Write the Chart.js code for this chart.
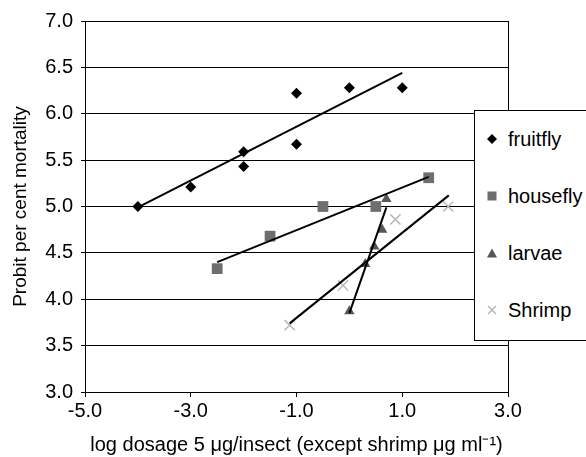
<!DOCTYPE html>
<html lang="en">
<head>
    <meta charset="UTF-8">
    <script src="https://cdn.jsdelivr.net/npm/chart.js@4.4.0/dist/chart.umd.min.js"></script>
    <title>Probit mortality</title>
    <style>
        html, body { margin: 0; padding: 0; background: #fff; overflow: hidden; }
        #wrapper { position: relative; width: 586px; height: 457px; }
        #legend {
            position: absolute; left: 474px; top: 110px; width: 130px; height: 229px;
            border: 1px solid #000; background: #fff; z-index: 2;
            font-family: "Liberation Sans", Arial, sans-serif; font-size: 20px; color: #000;
        }
        #legend .row { position: relative; height: 57px; }
        #legend svg { position: absolute; left: 11px; top: 22px; }
        #legend span { position: absolute; left: 33px; top: 0; line-height: 57px; white-space: nowrap; }
    </style>
</head>
<body>
    <div id="wrapper">
        <canvas id="chart" width="586" height="457"></canvas>
        <div id="legend"></div>
    </div>
    <script>
        // values
        var seriesNames = ['fruitfly', 'housefly', 'larvae', 'Shrimp'];

        var fruitX = [-4, -3, -2, -2, -1, -1, 0, 1];
        var fruitY = [5.0, 5.21, 5.59, 5.43, 6.22, 5.67, 6.28, 6.28];
        var houseX = [-2.5, -1.5, -0.5, 0.5, 1.5];
        var houseY = [4.33, 4.68, 5.0, 5.0, 5.31];
        var larvaeX = [0.0, 0.3, 0.47, 0.62, 0.7];
        var larvaeY = [3.87, 4.38, 4.57, 4.75, 5.08];
        var shrimpX = [-1.13, -0.12, 0.87, 1.87];
        var shrimpY = [3.72, 4.15, 4.86, 5.0];

        // trend line end points
        var fruitFitX = [-4, 1];
        var fruitFitY = [4.99, 6.44];
        var houseFitX = [-2.5, 1.5];
        var houseFitY = [4.40, 5.32];
        var larvaeFitX = [0.0, 0.7];
        var larvaeFitY = [3.85, 4.99];
        var shrimpFitX = [-1.13, 1.88];
        var shrimpFitY = [3.74, 5.12];

        var xTicks = [-5, -3, -1, 1, 3];
        var yTicks = [3.0, 3.5, 4.0, 4.5, 5.0, 5.5, 6.0, 6.5, 7.0];

        var styles = [
            { shape: 'rectRot', color: '#000000', radius: 5.5 },
            { shape: 'rect', color: '#6e6e6e', radius: 7.6 },
            { shape: 'triangle', color: '#565656', radius: 6 },
            { shape: 'crossRot', color: '#b8b8b8', radius: 7.2 }
        ];

        function pts(xs, ys) {
            return xs.map(function (x, i) { return { x: x, y: ys[i] }; });
        }

        var fits = [[fruitFitX, fruitFitY], [houseFitX, houseFitY], [larvaeFitX, larvaeFitY], [shrimpFitX, shrimpFitY]];
        var marks = [[fruitX, fruitY], [houseX, houseY], [larvaeX, larvaeY], [shrimpX, shrimpY]];

        var datasets = [];
        fits.forEach(function (f, i) {
            datasets.push({
                label: seriesNames[i] + ' fit',
                data: pts(f[0], f[1]),
                showLine: true,
                borderColor: '#000',
                borderWidth: 2,
                pointRadius: 0,
                fill: false
            });
        });
        marks.forEach(function (m, i) {
            var s = styles[i];
            datasets.push({
                label: seriesNames[i],
                data: pts(m[0], m[1]),
                showLine: false,
                pointStyle: s.shape,
                pointRadius: s.radius,
                pointHoverRadius: s.radius,
                backgroundColor: s.color,
                borderColor: s.color,
                borderWidth: s.shape === 'crossRot' ? 1.5 : 0
            });
        });

        var font = { family: '"Liberation Sans", Arial, sans-serif', size: 20 };
        var yTitleFont = { family: '"Liberation Sans", Arial, sans-serif', size: 19 };

        new Chart(document.getElementById('chart').getContext('2d'), {
            type: 'scatter',
            data: { datasets: datasets },
            options: {
                responsive: false,
                animation: false,
                events: [],
                layout: { padding: { top: 21, right: 78, bottom: 0, left: 0 } },
                plugins: { legend: { display: false }, tooltip: { enabled: false } },
                scales: {
                    x: {
                        type: 'linear',
                        min: -5, max: 3,
                        afterBuildTicks: function (scale) {
                            scale.ticks = xTicks.map(function (v) { return { value: v }; });
                        },
                        afterFit: function (scale) { scale.height = 65; },
                        ticks: {
                            color: '#000', font: font, padding: 2, maxRotation: 0,
                            callback: function (v) { return Number(v).toFixed(1); }
                        },
                        grid: {
                            color: function (c) { return c.tick && c.tick.value === 3 ? '#000' : 'rgba(0,0,0,0)'; },
                            tickColor: '#000', tickLength: 5, lineWidth: 1
                        },
                        border: { display: true, color: '#000', width: 1 },
                        title: {
                            display: true, color: '#000', font: font, padding: 0,
                            text: 'log dosage 5 \u03bcg/insect (except shrimp \u03bcg ml\u207b\u00b9)'
                        }
                    },
                    y: {
                        type: 'linear',
                        min: 3, max: 7,
                        afterBuildTicks: function (scale) {
                            scale.ticks = yTicks.map(function (v) { return { value: v }; });
                        },
                        afterFit: function (scale) { scale.width = 85; },
                        ticks: {
                            color: '#000', font: font, padding: 8,
                            callback: function (v) { return Number(v).toFixed(1); }
                        },
                        grid: { color: '#000', tickColor: '#000', tickLength: 4, lineWidth: 1 },
                        border: { display: true, color: '#000', width: 1 },
                        title: {
                            display: true, color: '#000', font: yTitleFont, padding: { top: 9, bottom: 0 },
                            text: 'Probit per cent mortality'
                        }
                    }
                }
            }
        });

        // legend box overlapping the plot, as in the picture
        function markerSvg(s) {
            var c = s.color, inner;
            if (s.shape === 'rectRot') inner = '<polygon points="6,1 11,6 6,11 1,6" fill="' + c + '"/>';
            else if (s.shape === 'rect') inner = '<rect x="1.5" y="1.5" width="9" height="9" fill="' + c + '"/>';
            else if (s.shape === 'triangle') inner = '<polygon points="6,1.5 11,10.5 1,10.5" fill="' + c + '"/>';
            else inner = '<path d="M2 2 L10 10 M10 2 L2 10" stroke="' + c + '" stroke-width="1.5"/>';
            return '<svg width="12" height="12" viewBox="0 0 12 12">' + inner + '</svg>';
        }
        var htmlCode = '';
        seriesNames.forEach(function (name, i) {
            htmlCode = htmlCode + '<div class="row">' + markerSvg(styles[i]) + '<span>' + name + '</span></div>';
        });
        document.getElementById('legend').innerHTML = htmlCode;
    </script>
</body>
</html>
